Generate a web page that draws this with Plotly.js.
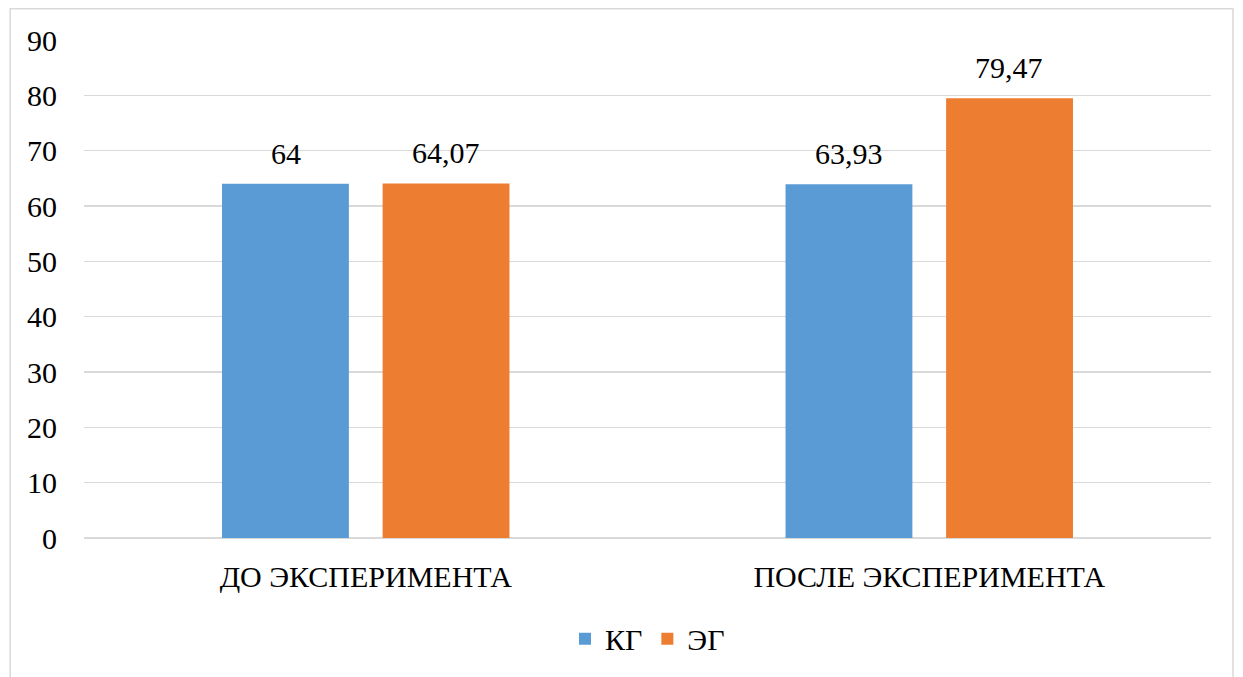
<!DOCTYPE html>
<html>
<head>
<meta charset="utf-8">
<script src="https://cdn.plot.ly/plotly-3.0.1.min.js"></script>
</head>
<body style="margin:0;background:#fff">
<div id="chart" style="width:1243px;height:677px"></div>
<script>
var categories = ['ДО ЭКСПЕРИМЕНТА', 'ПОСЛЕ ЭКСПЕРИМЕНТА'];
var seriesNames = ['КГ', 'ЭГ'];
var kgValues = [64, 63.93];
var egValues = [64.07, 79.47];
var yTicks = [0, 10, 20, 30, 40, 50, 60, 70, 80, 90];

function fmt(v){ return String(v).replace('.', ','); }
var FAMILY = '"Liberation Serif", serif';
function F(){ return {family: FAMILY, color: '#000000', size: 30}; }

var traces = [
  {type:'bar', name: seriesNames[0], x: categories, y: kgValues,
   marker:{color:'#5B9BD5'}, hoverinfo:'none'},
  {type:'bar', name: seriesNames[1], x: categories, y: egValues,
   marker:{color:'#ED7D31'}, hoverinfo:'none'}
];

var barOffset = 80;
var annotations = [];
[kgValues, egValues].forEach(function(vals, si){
  vals.forEach(function(v, ci){
    annotations.push({
      x: categories[ci], y: v, xref:'x', yref:'y',
      text: fmt(v), showarrow:false, xanchor:'center', yanchor:'bottom',
      xshift: si === 0 ? -barOffset : barOffset, yshift: 12,
      font: F()
    });
  });
});

var layout = {
  width: 1243, height: 677,
  margin: {l: 84, r: 32, t: 40, b: 137},
  paper_bgcolor: '#fff', plot_bgcolor: '#fff',
  font: F(),
  barmode: 'group', bargap: 0.43, bargroupgap: 0.21,
  showlegend: true,
  annotations: annotations,
  shapes: [{type:'rect', xref:'paper', yref:'paper', x0:-0.0655, x1:1.0195, y0:-0.3, y1:1.063,
            line:{color:'#d9d9d9', width:1.5}, fillcolor:'rgba(0,0,0,0)', layer:'below'}],
  legend: {orientation:'h', x:0.5, xanchor:'center', y:-0.15, yanchor:'top', xref:'paper',
           font: F(), traceorder:'normal', itemwidth: 30},
  xaxis: {type:'category', showgrid:false, zeroline:false, showline:false, ticks:'',
          tickfont: F(), ticklabelstandoff: 18, automargin:false},
  yaxis: {range:[0, 90], tickvals: yTicks, showgrid:true, gridcolor:'#d9d9d9', gridwidth:1.5,
          zeroline:true, zerolinecolor:'#d9d9d9', zerolinewidth:1.5, showline:false, ticks:'',
          tickfont: F(), ticklabelstandoff: 26, automargin:false}
};

Plotly.newPlot('chart', traces, layout, {displayModeBar:false, staticPlot:true});
</script>
</body>
</html>
